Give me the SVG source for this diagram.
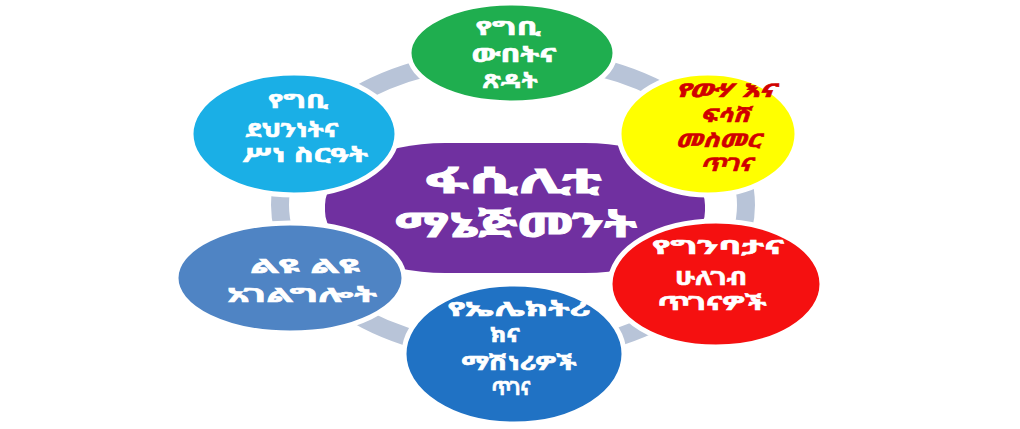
<svg xmlns="http://www.w3.org/2000/svg" width="1020" height="429" viewBox="0 0 1020 429">
<style>
.t{font-family:"Noto Sans Ethiopic","Abyssinica SIL","Noto Sans","DejaVu Sans",sans-serif;font-size:20px;font-weight:bold;fill:#ffffff;stroke:#ffffff;stroke-width:0.6;text-anchor:middle}
.c{font-size:34px;stroke-width:0.9}
.r{fill:#d00000;stroke:#d00000;font-style:italic;font-size:19px}
.n{stroke:#ffffff;stroke-width:5}
</style>
<rect width="1020" height="429" fill="#ffffff"/>
<g id="connectors">
<ellipse cx="513" cy="205" rx="233" ry="148" fill="none" stroke="#b8c4d8" stroke-width="18"/>
</g>
<g id="center">
<rect x="325" y="143" width="380" height="130" rx="120" ry="62" fill="#7030a0"/>
</g>
<g id="n-top">
<ellipse class="n" cx="512" cy="53" rx="103" ry="50" fill="#1fae4f"/>
<text class="t" x="508" y="35" textLength="65" lengthAdjust="spacingAndGlyphs">የግቢ</text>
<text class="t" x="514" y="62" textLength="85" lengthAdjust="spacingAndGlyphs">ውበትና</text>
<text class="t" x="510" y="88" textLength="55" lengthAdjust="spacingAndGlyphs">ጽዳት</text>
</g>
<g id="n-yellow">
<ellipse class="n" cx="708" cy="134" rx="89" ry="61" fill="#ffff00"/>
<text class="t r" x="725" y="97" textLength="100" lengthAdjust="spacingAndGlyphs">የውሃ እና</text>
<text class="t r" x="725" y="122" textLength="50" lengthAdjust="spacingAndGlyphs">ፍሳሽ</text>
<text class="t r" x="718" y="147" textLength="85" lengthAdjust="spacingAndGlyphs">መስመር</text>
<text class="t r" x="726" y="171" textLength="52" lengthAdjust="spacingAndGlyphs">ጥገና</text>
</g>
<g id="n-lightblue">
<ellipse class="n" cx="294" cy="134" rx="103" ry="61" fill="#1aafe6"/>
<text class="t" x="298" y="108" textLength="60" lengthAdjust="spacingAndGlyphs">የግቢ</text>
<text class="t" x="292" y="137" textLength="93" lengthAdjust="spacingAndGlyphs">ደህንነትና</text>
<text class="t" x="305" y="162" textLength="126" lengthAdjust="spacingAndGlyphs">ሥነ ስርዓት</text>
</g>
<g id="n-steel">
<ellipse class="n" cx="290" cy="278" rx="114" ry="55" fill="#4f84c4"/>
<text class="t" x="305" y="273" textLength="110" lengthAdjust="spacingAndGlyphs">ልዩ ልዩ</text>
<text class="t" x="302" y="302" textLength="150" lengthAdjust="spacingAndGlyphs">አገልግሎት</text>
</g>
<g id="n-red">
<ellipse class="n" cx="716" cy="284" rx="106" ry="63" fill="#f51010"/>
<text class="t" x="718" y="254" textLength="132" lengthAdjust="spacingAndGlyphs">የግንባታና</text>
<text class="t" x="711" y="285" textLength="72" lengthAdjust="spacingAndGlyphs">ሁለገብ</text>
<text class="t" x="712" y="310" textLength="109" lengthAdjust="spacingAndGlyphs">ጥገናዎች</text>
</g>
<g id="n-blue">
<ellipse class="n" cx="514" cy="354" rx="110" ry="70" fill="#2072c4"/>
<text class="t" x="519" y="316" textLength="143" lengthAdjust="spacingAndGlyphs">የኤሌክትሪ</text>
<text class="t" x="505" y="342" textLength="30" lengthAdjust="spacingAndGlyphs">ክና</text>
<text class="t" x="519" y="370" textLength="115" lengthAdjust="spacingAndGlyphs">ማሽነሪዎች</text>
<text class="t" x="511" y="395" textLength="39" lengthAdjust="spacingAndGlyphs">ጥገና</text>
</g>
<g id="center-label">
<text class="t c" x="513" y="193" textLength="177" lengthAdjust="spacingAndGlyphs">ፋሲሊቲ</text>
<text class="t c" x="516" y="237" textLength="242" lengthAdjust="spacingAndGlyphs">ማኔጅመንት</text>
</g>
</svg>
